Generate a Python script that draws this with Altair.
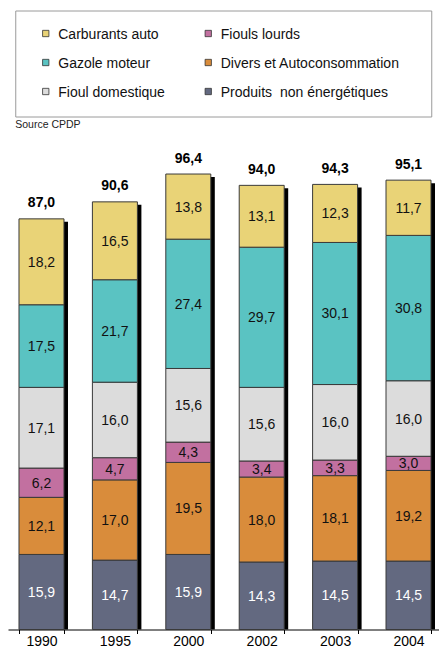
import altair as alt
import pandas as pd

years = ["1990", "1995", "2000", "2002", "2003", "2004"]

# series, bottom of stack to top
produits = [15.9, 14.7, 15.9, 14.3, 14.5, 14.5]
divers = [12.1, 17.0, 19.5, 18.0, 18.1, 19.2]
fiouls_lourds = [6.2, 4.7, 4.3, 3.4, 3.3, 3.0]
fioul_dom = [17.1, 16.0, 15.6, 15.6, 16.0, 16.0]
gazole = [17.5, 21.7, 27.4, 29.7, 30.1, 30.8]
carburants = [18.2, 16.5, 13.8, 13.1, 12.3, 11.7]
totals = [87.0, 90.6, 96.4, 94.0, 94.3, 95.1]

CAT_PROD = "Produits\u00a0 non énergétiques"
CAT_DIV = "Divers et Autoconsommation"
CAT_FL = "Fiouls lourds"
CAT_FD = "Fioul domestique"
CAT_GAZ = "Gazole moteur"
CAT_CARB = "Carburants auto"

stack_cats = [CAT_PROD, CAT_DIV, CAT_FL, CAT_FD, CAT_GAZ, CAT_CARB]
stack_vals = [produits, divers, fiouls_lourds, fioul_dom, gazole, carburants]

# legend order (row-major, two columns)
legend_cats = [CAT_CARB, CAT_FL, CAT_GAZ, CAT_DIV, CAT_FD, CAT_PROD]
legend_colors = ["#E9D377", "#C270A0", "#5AC3C2", "#D98C3B", "#DCDCDC", "#636980"]
legend_col = [0, 1, 0, 1, 0, 1]
legend_row = [0, 0, 1, 1, 2, 2]

color_scale = alt.Scale(domain=legend_cats, range=legend_colors)

rows = []
for i, yr in enumerate(years):
    acc = 0.0
    for k, (cat, vals) in enumerate(zip(stack_cats, stack_vals)):
        v = vals[i]
        rows.append({
            "year": yr, "cat": cat, "value": v,
            "y0": acc, "y1": acc + v, "mid": acc + v / 2,
            "label": f"{v:.1f}".replace(".", ","),
            "tcolor": "#FFFFFF" if k == 0 else "#111111",
        })
        acc += v
df = pd.DataFrame(rows)
tot_df = pd.DataFrame({
    "year": years,
    "sum": df.groupby("year", sort=False)["value"].sum().round(1).tolist(),
    "total": totals,
    "tlabel": [f"{t:.1f}".replace(".", ",") for t in totals],
})

x_enc = alt.X("year:N", sort=years,
              scale=alt.Scale(paddingInner=0.387, paddingOuter=0.1294, align=0.579),
              axis=alt.Axis(title=None, labelAngle=0, labelFontSize=14, labelColor="#000000",
                            domainColor="#000000", tickColor="#000000", tickSize=4,
                            tickBand="extent", labelPadding=1, grid=False))
y_scale = alt.Scale(domain=[0, 100], nice=False)

shadow = alt.Chart(tot_df).mark_bar(color="#000000", xOffset=4, yOffset=3).encode(
    x=x_enc,
    y=alt.Y("sum:Q", scale=y_scale, axis=None),
    y2=alt.datum(0),
)
bars = alt.Chart(df).mark_bar(stroke="#3a3a3a", strokeWidth=1).encode(
    x=x_enc,
    y=alt.Y("y1:Q", scale=y_scale, axis=None),
    y2="y0:Q",
    color=alt.Color("cat:N", scale=color_scale, legend=None),
)
labels = alt.Chart(df).mark_text(fontSize=14, baseline="middle", dy=1).encode(
    x=x_enc,
    y=alt.Y("mid:Q", scale=y_scale, axis=None),
    text="label:N",
    color=alt.Color("tcolor:N", scale=None),
)
tot_labels = alt.Chart(tot_df).mark_text(fontSize=14, fontWeight="bold", baseline="alphabetic",
                                         dy=-11.5, color="#000000").encode(
    x=x_enc,
    y=alt.Y("total:Q", scale=y_scale, axis=None),
    text="tlabel:N",
)
bar_panel = alt.layer(shadow, bars, labels, tot_labels).properties(
    width=431, height=472,
    view=alt.ViewBackground(stroke="transparent", strokeWidth=0),
)

leg_df = pd.DataFrame({"cat": legend_cats, "col": legend_col, "row": legend_row})
lx = alt.X("col:Q", scale=alt.Scale(domain=[0, 1], range=[30.5, 193], nice=False, zero=False), axis=None)
ly = alt.Y("row:Q", scale=alt.Scale(domain=[0, 2], range=[23, 81], nice=False, zero=False), axis=None)
sym = alt.Chart(leg_df).mark_square(size=40, stroke="#333333", strokeWidth=0.8, opacity=1).encode(
    x=lx, y=ly, color=alt.Color("cat:N", scale=color_scale, legend=None))
txt = alt.Chart(leg_df).mark_text(align="left", baseline="middle", dx=12.5, dy=1,
                                  fontSize=14, color="#111111").encode(
    x=lx, y=ly, text="cat:N")
legend_panel = alt.layer(sym, txt).properties(
    width=416, height=106,
    view=alt.ViewBackground(stroke="#9a9a9a", strokeWidth=1),
    title=alt.TitleParams("Source CPDP", orient="bottom", anchor="start", fontSize=10.5,
                          fontWeight="normal", color="#222222", offset=3, frame="group"),
)

chart = alt.vconcat(legend_panel, bar_panel, spacing=21, center=True).properties(
    padding={"left": 8, "top": 9.5, "right": 0, "bottom": 0},
    background="#FFFFFF",
).configure_view(strokeWidth=0).configure(font="Liberation Sans")

chart.save("out.html", embed_options={"renderer": "svg", "actions": False})
